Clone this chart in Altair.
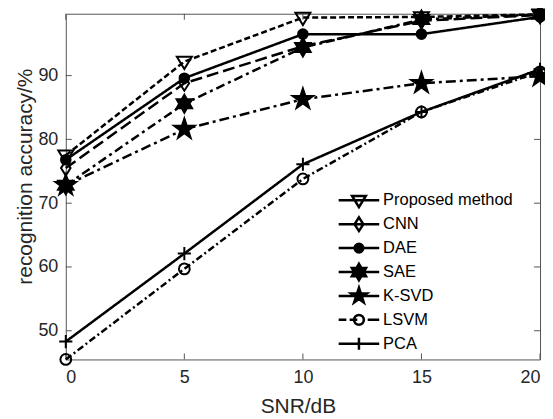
import math
import altair as alt
import pandas as pd

# ---- data ----
snr = [0, 5, 10, 15, 20]
series_names = ["Proposed method", "CNN", "DAE", "SAE", "K-SVD", "LSVM", "PCA"]
proposed = [77.5, 92.2, 99.1, 99.2, 99.6]
cnn = [75.5, 88.8, 94.6, 98.6, 99.5]
dae = [76.8, 89.6, 96.5, 96.5, 99.2]
sae = [72.8, 85.6, 94.4, 98.8, 99.6]
ksvd = [72.8, 81.6, 86.3, 88.8, 89.9]
lsvm = [45.5, 59.7, 73.8, 84.3, 90.6]
pca = [48.3, 62.1, 76.1, 84.3, 91.0]
x_ticks = [0, 5, 10, 15, 20]
y_ticks = [50, 60, 70, 80, 90]

values = [proposed, cnn, dae, sae, ksvd, lsvm, pca]
rows = []
for name, vals in zip(series_names, values):
    for s, v in zip(snr, vals):
        rows.append({"series": name, "snr": s, "acc": v})
df = pd.DataFrame(rows)
xt = pd.DataFrame({"v": x_ticks})
yt = pd.DataFrame({"v": y_ticks})


# ---- marker shapes (unit coords, size 144 -> 1 unit = 6px) ----
def star(n, R, r):
    pts = []
    for k in range(2 * n):
        a = -math.pi / 2 + k * math.pi / n
        rad = R if k % 2 == 0 else r
        pts.append((rad * math.cos(a), rad * math.sin(a)))
    return "M" + "L".join(f"{x:.3f},{y:.3f}" for x, y in pts) + "Z"


def circ(r):
    return f"M{-r},0A{r},{r} 0 1,0 {r},0A{r},{r} 0 1,0 {-r},0Z"


tri = "M-1.25,-0.8L1.25,-0.8L0,1.25Z"
dia = "M0,-1.25L0.8,0L0,1.25L-0.8,0Z"
dot = circ(0.8)
hexa = star(6, 1.5, 1.5 / math.sqrt(3))
penta = star(5, 1.8, 1.8 * 0.382)
ring = circ(0.9)
plus = "M-1.1,0H1.1M0,-1.1V1.1"

shapes = [tri, dia, dot, hexa, penta, ring, plus]
fills = ["transparent", "transparent", "black", "black", "black", "transparent", "transparent"]
strokes = ["black"] * 7
dashes = [[6, 3], [12, 5], [1, 0], [9, 4, 3, 4], [10, 4, 3, 4], [7, 3, 2, 3], [1, 0]]
widths = [2.5, 2.5, 2.5, 2.5, 2.5, 1.5, 2.5]

# legend symbols: line + marker, with equal vertical bounds for even spacing
bounds = "M0,-1.8L0,-1.8M0,1.8L0,1.8"
line_full = "M-3.7,0H3.7"
leg_marks = list(shapes)
leg_marks[4] = star(5, 1.5, 1.5 * 0.382)
leg_shapes = [bounds + line_full + s for s in leg_marks]
leg_shapes[5] = bounds + "M-3.7,0H-2.3M-1.7,0H-0.3M1.6,0H3.7" + ring

W, H = 476, 347
xs = alt.Scale(domain=[0, 20], nice=False, zero=False)
ys = alt.Scale(domain=[45.5, 99.7], nice=False, zero=False)

X = alt.X("snr:Q", scale=xs, axis=alt.Axis(
    values=x_ticks, title="SNR/dB", ticks=False, domain=False, grid=False,
    labelFontSize=18, labelPadding=9, labelColor="#262626",
    titleFontSize=21, titleFontWeight="normal", titleColor="#262626",
    titleY=53, titleBaseline="alphabetic", titleX=233, titleAlign="center"))
Y = alt.Y("acc:Q", scale=ys, axis=alt.Axis(
    values=y_ticks, title="recognition accuracy/%", ticks=False, domain=False, grid=False,
    labelFontSize=18, labelPadding=8, labelColor="#262626",
    titleFontSize=21, titleFontWeight="normal", titleColor="#262626",
    titleX=-40, titleY=163, titleAngle=-90, titleBaseline="middle", titleAlign="center"))

lines = alt.Chart(df).mark_line(color="black", strokeCap="butt").encode(
    x=X, y=Y,
    strokeDash=alt.StrokeDash("series:N", scale=alt.Scale(domain=series_names, range=dashes), legend=None),
    strokeWidth=alt.StrokeWidth("series:N", scale=alt.Scale(domain=series_names, range=widths), legend=None),
)

points = alt.Chart(df).mark_point(stroke="black", strokeWidth=2, size=144, opacity=1).encode(
    x=X, y=Y,
    shape=alt.Shape("series:N", scale=alt.Scale(domain=series_names, range=shapes), legend=None),
    fill=alt.Fill("series:N", scale=alt.Scale(domain=series_names, range=fills), legend=None),
)

leg_kw = dict(title=None, orient="none", legendX=286, legendY=179, padding=0,
              rowPadding=-9.5, labelOffset=16, symbolSize=121, labelFontSize=16.5,
              labelColor="black", symbolStrokeWidth=2.5, symbolStrokeColor="black",
              symbolOpacity=1, labelLimit=300, labelFont="Liberation Sans")

legend_layer = alt.Chart(df).transform_filter("false").mark_point(
    strokeWidth=2.5, size=121, opacity=1).encode(
    x=X, y=Y,
    shape=alt.Shape("series:N", scale=alt.Scale(domain=series_names, range=leg_shapes),
                    legend=alt.Legend(**leg_kw)),
    fill=alt.Fill("series:N", scale=alt.Scale(domain=series_names, range=fills),
                  legend=alt.Legend(**leg_kw)),
    stroke=alt.Stroke("series:N", scale=alt.Scale(domain=series_names, range=strokes),
                      legend=alt.Legend(**leg_kw)),
)

tick_color = "#555555"
left_ticks = alt.Chart(yt).mark_rule(color=tick_color, strokeWidth=1).encode(
    y=alt.Y("v:Q", scale=ys), x=alt.value(0), x2=alt.value(6))
right_ticks = alt.Chart(yt).mark_rule(color=tick_color, strokeWidth=1).encode(
    y=alt.Y("v:Q", scale=ys), x=alt.value(W - 6), x2=alt.value(W))
bottom_ticks = alt.Chart(xt).mark_rule(color=tick_color, strokeWidth=1).encode(
    x=alt.X("v:Q", scale=xs), y=alt.value(H - 6), y2=alt.value(H))
top_ticks = alt.Chart(xt).mark_rule(color=tick_color, strokeWidth=1).encode(
    x=alt.X("v:Q", scale=xs), y=alt.value(0), y2=alt.value(6))

chart = alt.layer(
    left_ticks, right_ticks, bottom_ticks, top_ticks, lines, points, legend_layer
).resolve_scale(
    shape="independent", fill="independent", stroke="independent"
).properties(
    width=W, height=H,
    autosize=alt.AutoSizeParams(type="none"),
    padding={"left": 58, "top": 5, "right": 5, "bottom": 56},
).configure(
    font="Liberation Sans",
).configure_view(
    stroke="#555555", strokeWidth=1
)

chart.save("out.html", embed_options={"renderer": "svg", "actions": False})
